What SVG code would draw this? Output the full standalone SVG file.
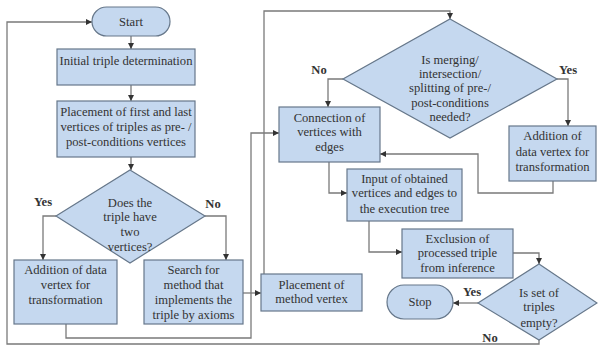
<svg xmlns="http://www.w3.org/2000/svg" width="598" height="347" viewBox="0 0 598 347">
<defs>
<marker id="arr" markerUnits="userSpaceOnUse" markerWidth="7" markerHeight="6" refX="6" refY="3" orient="auto">
<path d="M0,0 L6,3 L0,6 z" fill="#333"/>
</marker>
<style>
.n{fill:#c5d8ef;stroke:#66778a;stroke-width:1.2}
text{font-family:'Liberation Serif','Times New Roman',Times,serif;font-size:12.6px;fill:#333;text-anchor:middle}
.b{font-weight:bold}
.c{fill:none;stroke:#7a7a7a;stroke-width:1.3}
.a{marker-end:url(#arr)}
</style>
</defs>
<rect width="598" height="347" fill="#fff"/>
<g id="connectors">
<path class="c a" d="M131,36 V49"/>
<path class="c a" d="M131,85 V101"/>
<path class="c a" d="M131,157 V170"/>
<path class="c a" d="M56,216 H43 V260"/>
<path class="c a" d="M205,216 H226 V260"/>
<path class="c a" d="M243,293 H261"/>
<path class="c a" d="M66,324 V338 H251 V133 H279"/>
<path class="c a" d="M264,274 V11 H450 V19"/>
<path class="c a" d="M343,79 H328 V107"/>
<path class="c a" d="M557,79 H568 V126"/>
<path class="c a" d="M553,181 V193 H478 V154 H380"/>
<path class="c a" d="M329,162 V193 H347"/>
<path class="c a" d="M369,221 V252 H402"/>
<path class="c a" d="M513,253 H539 V264"/>
<path class="c a" d="M478,303 H453"/>
<path class="c a" d="M539,340 V344 H7 V22 H92"/>
<text class="b" x="43" y="206">Yes</text>
<text class="b" x="213" y="208">No</text>
<text class="b" x="319" y="74">No</text>
<text class="b" x="568" y="74">Yes</text>
<text class="b" x="472" y="296">Yes</text>
<text class="b" x="490" y="342">No</text>
</g>
<g id="start"><rect class="n" x="92" y="7" width="78" height="29" rx="14.5"/><text x="131" y="26">Start</text></g>
<g id="initial"><rect class="n" x="57" y="49" width="138" height="36"/><text x="126" y="65">Initial triple determination</text></g>
<g id="placement"><rect class="n" x="57" y="101" width="138" height="56"/><text x="126" y="116">Placement of first and last</text><text x="126" y="131">vertices of triples as pre- /</text><text x="126" y="146">post-conditions vertices</text></g>
<g id="dec1"><polygon class="n" points="130,170 205,216 130,263 56,216"/><text x="130" y="207">Does the</text><text x="130" y="221">triple have</text><text x="130" y="236">two</text><text x="130" y="251">vertices?</text></g>
<g id="addition1"><rect class="n" x="14" y="260" width="103" height="64"/><text x="65.5" y="274">Addition of data</text><text x="65.5" y="289">vertex for</text><text x="65.5" y="304">transformation</text></g>
<g id="search"><rect class="n" x="144" y="260" width="99" height="64"/><text x="193.5" y="274">Search for</text><text x="193.5" y="289">method that</text><text x="193.5" y="304">implements the</text><text x="193.5" y="319">triple by axioms</text></g>
<g id="methodvertex"><rect class="n" x="261" y="274" width="101" height="37"/><text x="311.5" y="289">Placement of</text><text x="311.5" y="303">method vertex</text></g>
<g id="dec2"><polygon class="n" points="450,19 557,79 450,138 343,79"/><text x="450" y="64">Is merging/</text><text x="450" y="78">intersection/</text><text x="450" y="92">splitting of pre-/</text><text x="450" y="107">post-conditions</text><text x="450" y="121">needed?</text></g>
<g id="connection"><rect class="n" x="279" y="107" width="101" height="55"/><text x="329.5" y="122">Connection of</text><text x="329.5" y="136">vertices with</text><text x="329.5" y="151">edges</text></g>
<g id="addition2"><rect class="n" x="509" y="126" width="87" height="55"/><text x="552.5" y="140">Addition of</text><text x="552.5" y="156">data vertex for</text><text x="552.5" y="171">transformation</text></g>
<g id="input"><rect class="n" x="347" y="169" width="115" height="52"/><text x="404.5" y="183">Input of obtained</text><text x="404.5" y="197">vertices and edges to</text><text x="404.5" y="213">the execution tree</text></g>
<g id="exclusion"><rect class="n" x="402" y="229" width="111" height="49"/><text x="457.5" y="243">Exclusion of</text><text x="457.5" y="257">processed triple</text><text x="457.5" y="272">from inference</text></g>
<g id="dec3"><polygon class="n" points="539,264 597,303 539,340 478,303"/><text x="539" y="297">Is set of</text><text x="539" y="311">triples</text><text x="539" y="327">empty?</text></g>
<g id="stop"><rect class="n" x="387" y="285" width="66" height="34" rx="17"/><text x="420" y="306">Stop</text></g>
</svg>
